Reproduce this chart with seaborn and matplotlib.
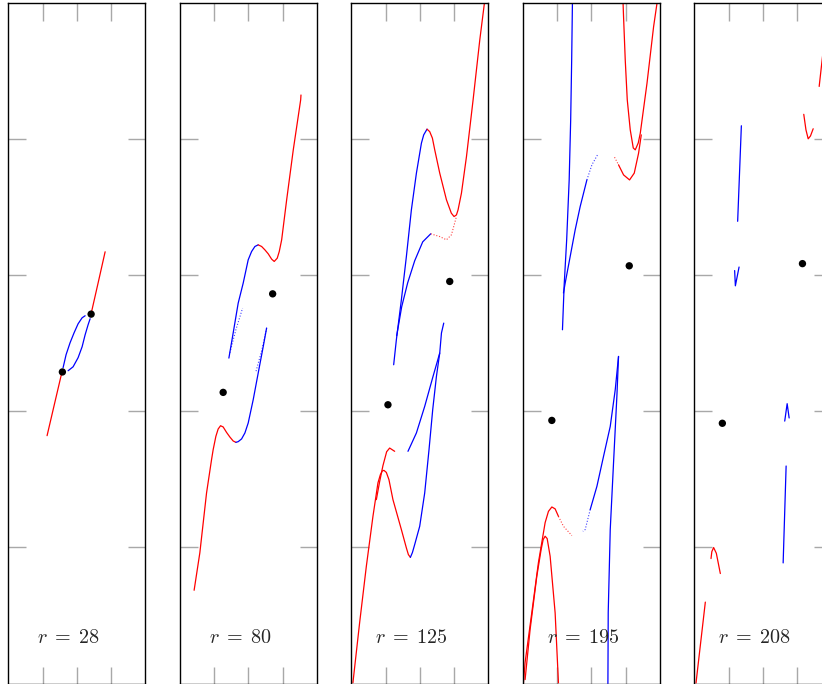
import matplotlib
matplotlib.use("Agg")
import matplotlib.pyplot as plt
import seaborn as sns

# ---------------- data ----------------
R_VALUES = [28, 80, 125, 195, 208]

# r = 28
R28_RED1_X = [1.132, 1.336, 1.541, 1.579]
R28_RED1_Y = [1.821, 2.041, 2.261, 2.289]
R28_RED2_X = [2.418, 2.623, 2.827]
R28_RED2_Y = [2.717, 2.944, 3.172]
R28_BLUE1_X = [1.599, 1.687, 1.804, 1.921, 2.038, 2.155, 2.243]
R28_BLUE1_Y = [2.320, 2.416, 2.504, 2.577, 2.643, 2.687, 2.702]
R28_BLUE2_X = [1.746, 1.892, 2.038, 2.155, 2.243, 2.330, 2.389]
R28_BLUE2_Y = [2.298, 2.327, 2.394, 2.474, 2.562, 2.636, 2.680]
R28_DOT_X = [1.579, 2.418]
R28_DOT_Y = [2.289, 2.714]

# r = 80
R80_RED1_X = [0.418, 0.585, 0.781, 0.927, 0.974, 1.053, 1.120, 1.190, 1.266, 1.365, 1.462, 1.558, 1.637]
R80_RED1_Y = [0.685, 0.960, 1.400, 1.645, 1.718, 1.816, 1.870, 1.894, 1.885, 1.845, 1.811, 1.782, 1.772]
R80_BLUE1_X = [1.637, 1.705, 1.804, 1.901, 1.997, 2.143, 2.289, 2.436, 2.535]
R80_BLUE1_Y = [1.772, 1.777, 1.797, 1.841, 1.914, 2.085, 2.281, 2.476, 2.612]
R80_BLUE2_X = [2.535, 2.398, 2.222]
R80_BLUE2_Y = [2.612, 2.452, 2.291]
R80_BLUE3_X = [1.433, 1.558, 1.705, 1.851, 1.997, 2.096, 2.193, 2.289]
R80_BLUE3_Y = [2.391, 2.575, 2.795, 2.942, 3.113, 3.174, 3.211, 3.223]
R80_BLUE4_X = [1.462, 1.637, 1.833]
R80_BLUE4_Y = [2.430, 2.599, 2.758]
R80_RED2_X = [2.289, 2.389, 2.485, 2.582, 2.681, 2.757, 2.845, 2.904, 2.974, 3.120, 3.313, 3.529, 3.538]
R80_RED2_Y = [3.223, 3.211, 3.186, 3.157, 3.118, 3.101, 3.125, 3.174, 3.260, 3.554, 3.921, 4.288, 4.324]
R80_DOT_X = [2.711, 1.266]
R80_DOT_Y = [2.863, 2.139]

# r = 125
R125_RED1_X = [0.047, 0.243, 0.439, 0.632, 0.778, 0.848, 0.906, 0.953, 1.023, 1.099, 1.216, 1.462, 1.608, 1.667, 1.725]
R125_RED1_Y = [0.005, 0.446, 0.861, 1.228, 1.474, 1.534, 1.562, 1.566, 1.551, 1.498, 1.351, 1.131, 0.996, 0.947, 0.927]
R125_RED2_X = [0.731, 0.827, 0.924, 1.032, 1.120, 1.266]
R125_RED2_Y = [1.351, 1.483, 1.601, 1.703, 1.730, 1.706]
R125_BLUE1_X = [1.725, 1.784, 1.851, 1.997, 2.143, 2.269, 2.377, 2.485, 2.582, 2.632, 2.699]
R125_BLUE1_Y = [0.927, 0.962, 1.021, 1.155, 1.400, 1.718, 2.012, 2.256, 2.428, 2.575, 2.648]
R125_BLUE2_X = [1.655, 1.901, 2.143, 2.386, 2.582]
R125_BLUE2_Y = [1.706, 1.841, 2.036, 2.256, 2.428]
R125_BLUE3_X = [1.237, 1.316, 1.462, 1.608, 1.754, 1.901, 2.047, 2.114, 2.211]
R125_BLUE3_Y = [2.342, 2.526, 2.819, 3.137, 3.480, 3.750, 3.970, 4.031, 4.073]
R125_RED3_X = [2.211, 2.289, 2.368, 2.436, 2.582, 2.778, 2.920, 3.000, 3.070, 3.117, 3.216, 3.363, 3.556, 3.751, 3.898]
R125_RED3_Y = [4.073, 4.055, 4.007, 3.921, 3.750, 3.554, 3.456, 3.431, 3.443, 3.480, 3.603, 3.872, 4.288, 4.728, 5.022]
R125_BLUE4_X = [1.325, 1.471, 1.646, 1.851, 2.085, 2.319]
R125_BLUE4_Y = [2.555, 2.768, 2.944, 3.106, 3.245, 3.304]
R125_RED4_X = [2.319, 2.582, 2.778, 2.924, 3.070]
R125_RED4_Y = [3.304, 3.284, 3.260, 3.297, 3.431]
R125_DOT_X = [2.874, 1.070]
R125_DOT_Y = [2.954, 2.048]

# r = 195
R195_BLUE1_X = [1.450, 1.427, 1.398, 1.354, 1.281, 1.208, 1.158]
R195_BLUE1_Y = [5.022, 4.581, 4.141, 3.700, 3.260, 2.929, 2.599]
R195_BLUE2_X = [1.187, 1.237, 1.383, 1.529, 1.675, 1.871]
R195_BLUE2_Y = [2.869, 2.942, 3.137, 3.333, 3.504, 3.700]
R195_BLUE2S_X = [1.871, 2.018, 2.181]
R195_BLUE2S_Y = [3.700, 3.811, 3.884]
R195_RED1S_X = [2.678, 2.795]
R195_RED1S_Y = [3.867, 3.811]
R195_RED1_X = [2.795, 2.942, 3.117, 3.254, 3.380, 3.459]
R195_RED1_Y = [3.811, 3.737, 3.700, 3.750, 3.896, 4.031]
R195_RED2_X = [2.924, 2.942, 2.991, 3.050, 3.137, 3.225, 3.284, 3.371, 3.430, 3.626, 3.819, 3.918]
R195_RED2_Y = [5.022, 4.897, 4.581, 4.288, 4.068, 3.935, 3.921, 3.972, 4.043, 4.410, 4.826, 4.998]
R195_BLUE3_X = [2.795, 2.749, 2.649, 2.553, 2.494, 2.485]
R195_BLUE3_Y = [2.403, 2.122, 1.620, 1.131, 0.521, 0.000]
R195_BLUE4_X = [2.795, 2.699, 2.553, 2.357, 2.164, 1.968]
R195_BLUE4_Y = [2.403, 2.159, 1.889, 1.669, 1.449, 1.278]
R195_BLUE4S_X = [1.968, 1.822, 1.754]
R195_BLUE4S_Y = [1.278, 1.131, 1.118]
R195_RED3_X = [0.018, 0.067, 0.263, 0.456, 0.652, 0.749, 0.848, 0.944, 1.041]
R195_RED3_Y = [0.000, 0.154, 0.521, 0.888, 1.182, 1.265, 1.297, 1.283, 1.228]
R195_RED3S_X = [1.041, 1.187, 1.433]
R195_RED3S_Y = [1.228, 1.155, 1.087]
R195_RED4_X = [0.067, 0.213, 0.409, 0.535, 0.594, 0.652, 0.711, 0.798, 0.944, 1.041]
R195_RED4_Y = [0.029, 0.396, 0.788, 0.984, 1.057, 1.082, 1.065, 0.935, 0.519, 0.005]
R195_DOT_X = [3.108, 0.848]
R195_DOT_Y = [3.069, 1.933]

# r = 208
R208_RED1_X = [0.050, 0.322]
R208_RED1_Y = [0.004, 0.598]
R208_RED2_X = [0.488, 0.512, 0.564, 0.643, 0.760]
R208_RED2_Y = [0.918, 0.969, 0.999, 0.957, 0.808]
R208_BLUE1_X = [1.374, 1.266]
R208_BLUE1_Y = [4.098, 3.396]
R208_BLUE2_X = [1.178, 1.199, 1.307]
R208_BLUE2_Y = [3.034, 2.922, 3.060]
R208_BLUE3_X = [2.640, 2.711, 2.769]
R208_BLUE3_Y = [1.928, 2.056, 1.951]
R208_BLUE4_X = [2.681, 2.594]
R208_BLUE4_Y = [1.598, 0.886]
R208_RED3_X = [3.196, 3.260, 3.325, 3.392, 3.471]
R208_RED3_Y = [4.182, 4.068, 4.002, 4.023, 4.076]
R208_RED4_X = [3.646, 3.743, 3.850]
R208_RED4_Y = [4.387, 4.605, 4.850]
R208_DOT_X = [0.819, 3.158]
R208_DOT_Y = [1.912, 3.085]

RED = "#ff0000"
BLUE = "#0000ff"

PANELS = [
    ([(R28_RED1_X, R28_RED1_Y, RED, False), (R28_RED2_X, R28_RED2_Y, RED, False),
      (R28_BLUE1_X, R28_BLUE1_Y, BLUE, False), (R28_BLUE2_X, R28_BLUE2_Y, BLUE, False)],
     R28_DOT_X, R28_DOT_Y),
    ([(R80_RED1_X, R80_RED1_Y, RED, False), (R80_BLUE1_X, R80_BLUE1_Y, BLUE, False),
      (R80_BLUE2_X, R80_BLUE2_Y, BLUE, True), (R80_BLUE3_X, R80_BLUE3_Y, BLUE, False),
      (R80_BLUE4_X, R80_BLUE4_Y, BLUE, True), (R80_RED2_X, R80_RED2_Y, RED, False)],
     R80_DOT_X, R80_DOT_Y),
    ([(R125_RED1_X, R125_RED1_Y, RED, False), (R125_RED2_X, R125_RED2_Y, RED, False),
      (R125_BLUE1_X, R125_BLUE1_Y, BLUE, False), (R125_BLUE2_X, R125_BLUE2_Y, BLUE, False),
      (R125_BLUE3_X, R125_BLUE3_Y, BLUE, False), (R125_RED3_X, R125_RED3_Y, RED, False),
      (R125_BLUE4_X, R125_BLUE4_Y, BLUE, False), (R125_RED4_X, R125_RED4_Y, RED, True)],
     R125_DOT_X, R125_DOT_Y),
    ([(R195_BLUE1_X, R195_BLUE1_Y, BLUE, False), (R195_BLUE2_X, R195_BLUE2_Y, BLUE, False),
      (R195_BLUE2S_X, R195_BLUE2S_Y, BLUE, True), (R195_RED1S_X, R195_RED1S_Y, RED, True),
      (R195_RED1_X, R195_RED1_Y, RED, False), (R195_RED2_X, R195_RED2_Y, RED, False),
      (R195_BLUE3_X, R195_BLUE3_Y, BLUE, False), (R195_BLUE4_X, R195_BLUE4_Y, BLUE, False),
      (R195_BLUE4S_X, R195_BLUE4S_Y, BLUE, True), (R195_RED3_X, R195_RED3_Y, RED, False),
      (R195_RED3S_X, R195_RED3S_Y, RED, True), (R195_RED4_X, R195_RED4_Y, RED, False)],
     R195_DOT_X, R195_DOT_Y),
    ([(R208_RED1_X, R208_RED1_Y, RED, False), (R208_RED2_X, R208_RED2_Y, RED, False),
      (R208_BLUE1_X, R208_BLUE1_Y, BLUE, False), (R208_BLUE2_X, R208_BLUE2_Y, BLUE, False),
      (R208_BLUE3_X, R208_BLUE3_Y, BLUE, False), (R208_BLUE4_X, R208_BLUE4_Y, BLUE, False),
      (R208_RED3_X, R208_RED3_Y, RED, False), (R208_RED4_X, R208_RED4_Y, RED, False)],
     R208_DOT_X, R208_DOT_Y),
]

# ---------------- drawing ----------------
sns.set_style("white")
plt.rcParams["mathtext.fontset"] = "cm"

W, H = 822.0, 684.0
fig = plt.figure(figsize=(W / 100, H / 100), dpi=100)

for i, (segments, dx, dy) in enumerate(PANELS):
    left = 8.3 + 171.5 * i
    ax = fig.add_axes([left / W, 0.5 / H, 137.0 / W, 680.5 / H])
    for xs, ys, col, sparse in segments:
        sns.lineplot(x=xs, y=ys, sort=False, estimator=None, color=col, ax=ax,
                     linewidth=0.9 if not sparse else 0.8,
                     linestyle=(0, (1, 1.6)) if sparse else "-",
                     alpha=0.75 if sparse else 1.0)
    sns.scatterplot(x=dx, y=dy, color="black", s=28, edgecolor="none", ax=ax, zorder=5)
    ax.text(1.76, 0.34, r"$r\;=\;%d$" % R_VALUES[i], ha="center", va="center", fontsize=14.5)
    ax.set_xlim(0, 4)
    ax.set_ylim(0, 5)
    ax.set_xticks([1, 2, 3])
    ax.set_yticks([1, 2, 3, 4])
    ax.tick_params(direction="in", length=12.6, width=1.0, color="#a8a8a8",
                   top=True, bottom=True, left=True, right=True,
                   labelbottom=False, labelleft=False, labeltop=False, labelright=False)
    ax.set_xlabel("")
    ax.set_ylabel("")
    for sp in ax.spines.values():
        sp.set_visible(True)
        sp.set_color("black")
        sp.set_linewidth(1.0)

fig.savefig("out.png", dpi=100)
